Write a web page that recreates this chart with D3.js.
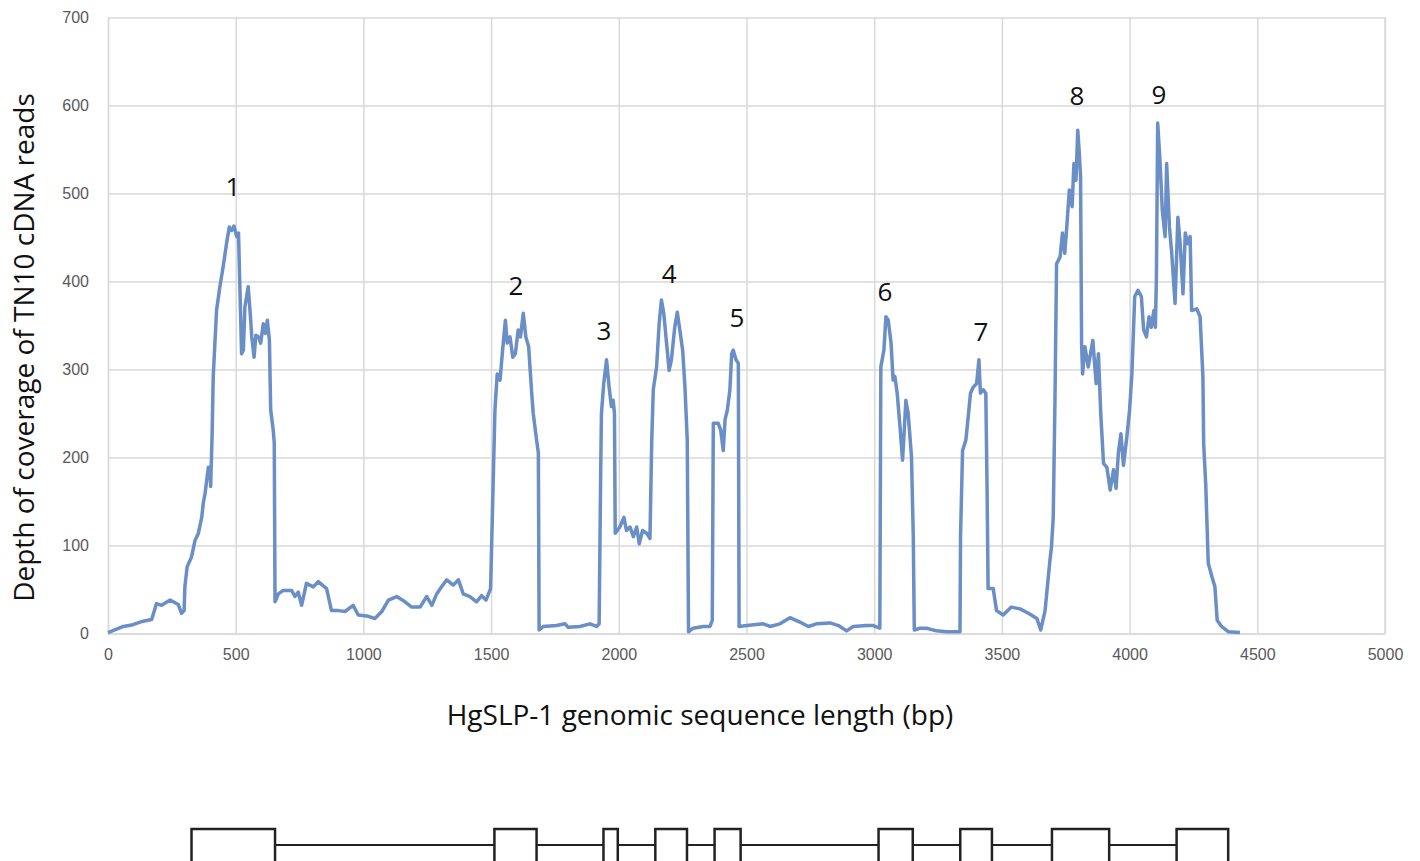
<!DOCTYPE html>
<html>
<head>
<meta charset="utf-8">
<script src="https://cdn.jsdelivr.net/npm/d3@7"></script>
<style>
	body{margin:0;background:#fff;}
	svg{display:block;font-family:"Open Sans", "DejaVu Sans", sans-serif;}
	.axis text{fill:#595959;font-size:16px;}
	.axis line, .axis path{stroke:#d9d9d9;stroke-width:1.5;}
	.coverage{fill:none;stroke:#6a8ec6;stroke-width:3.5;stroke-linejoin:round;}
	.peakTxt{fill:#111;font-size:26px;}
	.title{fill:#111;font-size:28px;}
	.exon{fill:#fff;stroke:#222;stroke-width:2.5;}
	.intron{stroke:#222;stroke-width:2;}
</style>
</head>
<body>
<svg class="chart" width="1420" height="861"></svg>
<script>
// read depth (bp, reads) from the figure
var position = [0,60,98,137,171,190,210,243,275,288,298,301,310,327,341,354,367,373,380,393,399,402,408,412,425,438,451,464,475,484,493,504,511,517,523,530,536,549,556,563,572,579,590,598,608,616,624,632,637,647,651,654,
	667,686,719,732,745,758,777,804,823,856,875,902,928,960,980,1013,1045,1072,1098,1130,1163,1189,1222,1248,1268,1287,1306,1326,1352,1372,1391,1417,1443,1463,1480,1498,
	1509,1515,1524,1535,1545,1556,1563,1574,1585,1595,1606,1615,1626,1636,1647,1659,1665,1678,1685,1688,1704,1756,1789,1802,1848,1887,1913,1923,
	1929,1932,1941,1952,1962,1971,1978,1983,1986,2004,2020,2030,2044,2057,2070,2080,2093,2109,2122,
	2129,2135,2148,2158,2167,2176,2187,2197,2206,2219,2229,2239,2250,2259,2268,2273,2291,2330,2357,2366,
	2370,2389,2399,2409,2416,2425,2435,2442,2448,2459,2468,2471,2501,2566,2592,2631,2670,2709,2742,2774,2827,2860,2892,2918,2970,2996,3022,
	3026,3038,3046,3055,3066,3074,3081,3090,3101,3111,3117,3124,3133,3146,3153,3157,3179,3205,3244,3283,3336,
	3338,3346,3359,3368,3377,3388,3401,3410,3416,3427,3437,3442,3446,3466,3479,3505,3537,3571,3604,3637,3652,3669,3688,3694,3701,
	3708,3714,3728,3737,3746,3754,3764,3775,3782,3790,3797,3803,3808,3812,3816,3825,3838,3856,3869,3878,3887,3898,3911,3924,3937,3947,3956,3966,3976,3989,4000,
	4009,4020,4033,4046,4055,4066,4076,4085,4095,4101,4105,4110,4119,4128,4139,4145,4156,4165,4178,4189,4198,4209,4218,4228,4237,4243,4263,4276,4287,4290,
	4298,4308,4321,4334,4343,4360,4386,4432];

var depth = [1,8,10,14,16,34,32,38,33,23,26,53,76,87,106,114,132,148,159,189,189,167,231,292,367,394,417,443,462,458,463,451,455,387,318,322,371,394,367,337,314,339,337,330,352,341,356,333,254,231,216,36,
	45,49,49,42,47,32,57,53,59,51,26,26,25,32,21,20,17,25,38,42,36,30,30,42,32,45,53,61,55,61,45,42,36,43,38,51,
	182,254,295,288,322,356,330,337,314,318,345,337,364,337,326,273,250,220,205,4,8,9,11,7,8,11,8,11,
	182,250,284,311,280,258,265,250,114,121,132,117,121,110,121,102,117,114,108,
	220,277,303,352,379,364,330,299,311,348,365,345,322,280,220,2,6,8,8,15,
	239,239,231,208,243,254,277,318,322,311,307,8,9,11,8,11,18,13,8,11,12,9,3,8,9,9,6,
	303,322,360,356,330,288,292,273,235,197,227,265,250,201,110,4,6,6,3,2,2,
	110,208,220,246,273,280,284,311,273,277,273,163,51,51,26,21,30,28,23,17,4,26,83,98,132,
	269,420,428,455,432,462,504,485,534,515,572,546,519,330,295,326,303,333,284,318,250,193,189,163,186,165,205,227,191,223,254,
	295,383,390,383,345,337,360,348,367,348,405,580,537,481,451,534,462,432,375,473,443,386,455,443,451,367,369,360,292,216,
	170,80,66,53,15,8,2,1];

var xTicks = [0,500,1000,1500,2000,2500,3000,3500,4000,4500,5000];
var yTicks = [0,100,200,300,400,500,600,700];

var peakName = ["1","2","3","4","5","6","7","8","9"];
var peakX = [489,1597,1942,2197,2463,3042,3418,3794,4115];
var peakY = [509,396,345,410,360,389,344,612,613];

// exon boxes (bp) for the gene model under the chart
var exonStart = [327,1513,1940,2143,2375,3017,3337,3696,4184];
var exonEnd = [654,1678,1996,2267,2477,3151,3461,3920,4386];

var svg = d3.select(".chart");
var plotLeft = 108, plotTop = 17.5, plotW = 1277, plotH = 616;

var scaleX = d3.scaleLinear()
			   .domain([0, 5000])
			   .range([plotLeft, plotLeft + plotW]);

var scaleY = d3.scaleLinear()
			   .domain([0, 700])
			   .range([plotTop + plotH, plotTop]);

svg.append("g")
	.attr("class", "axis")
	.attr("transform", "translate(0," + (plotTop + plotH) + ")")
	.call(d3.axisBottom(scaleX).tickValues(xTicks).tickFormat(d3.format("d")).tickSize(-plotH).tickPadding(15).tickSizeOuter(0));

svg.append("g")
	.attr("class", "axis")
	.attr("transform", "translate(" + plotLeft + ",0)")
	.call(d3.axisLeft(scaleY).tickValues(yTicks).tickFormat(d3.format("d")).tickSize(-plotW).tickPadding(19).tickSizeOuter(0));

// right border of the plot area
svg.append("line")
	.attr("x1", scaleX(5000))
	.attr("x2", scaleX(5000))
	.attr("y1", scaleY(0))
	.attr("y2", scaleY(700))
	.attr("stroke", "#d9d9d9")
	.attr("stroke-width", 1.5);

var line = d3.line()
			 .x(function(d, i){
				return scaleX(position[i]);
			 })
			 .y(function(d){
				return scaleY(d);
			 });

svg.append("path")
	.attr("d", line(depth))
	.attr("class", "coverage");

svg.selectAll(".peakTxt")
	.data(peakName)
	.enter()
	.append("text")
	.attr("class", "peakTxt")
	.attr("x", function(d, i){
		return scaleX(peakX[i]);
	})
	.attr("y", function(d, i){
		return scaleY(peakY[i]);
	})
	.attr("text-anchor", "middle")
	.attr("dominant-baseline", "central")
	.text(function(d){ return d; });

svg.append("text")
	.attr("class", "title")
	.attr("x", 700)
	.attr("y", 714)
	.attr("text-anchor", "middle")
	.attr("dominant-baseline", "central")
	.text("HgSLP-1 genomic sequence length (bp)");

svg.append("text")
	.attr("class", "title")
	.attr("transform", "translate(23," + (plotTop + plotH / 2 + 22) + ") rotate(-90)")
	.attr("text-anchor", "middle")
	.attr("dominant-baseline", "central")
	.text("Depth of coverage of TN10 cDNA reads");

// gene model
var geneY = 845;
svg.append("line")
	.attr("class", "intron")
	.attr("x1", scaleX(exonEnd[0]))
	.attr("x2", scaleX(exonStart[exonStart.length - 1]))
	.attr("y1", geneY)
	.attr("y2", geneY);

svg.selectAll(".exon")
	.data(exonStart)
	.enter()
	.append("rect")
	.attr("class", "exon")
	.attr("x", function(d){ return scaleX(d); })
	.attr("width", function(d, i){ return scaleX(exonEnd[i]) - scaleX(d); })
	.attr("y", 829)
	.attr("height", 40);
</script>
</body>
</html>
